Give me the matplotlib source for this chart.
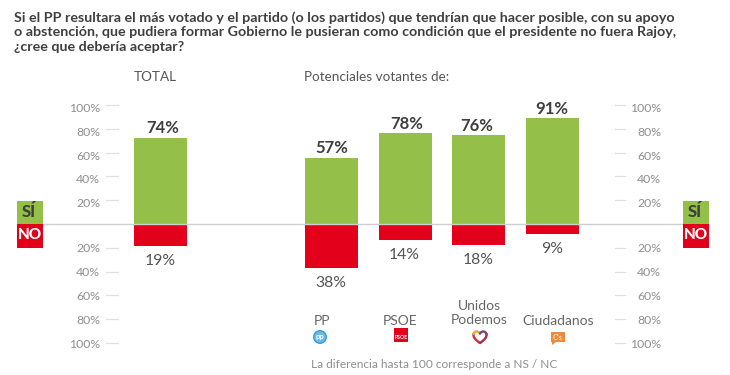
import matplotlib
matplotlib.use('Agg')
import matplotlib.pyplot as plt
from matplotlib.patches import Circle, Polygon, Rectangle
from matplotlib.path import Path

plt.rcParams['font.family'] = ['Lato', 'DejaVu Sans']

# Datos
grupos = ['TOTAL', 'PP', 'PSOE', 'Unidos\nPodemos', 'Ciudadanos']
si = [74, 57, 78, 76, 91]
no = [19, 38, 14, 18, 9]
marcas = [20, 40, 60, 80, 100]

titulo = ('Si el PP resultara el más votado y el partido (o los partidos) que tendrían que hacer posible, con su apoyo\n'
          'o abstención, que pudiera formar Gobierno le pusieran como condición que el presidente no fuera Rajoy,\n'
          '¿cree que debería aceptar?')
nota = 'La diferencia hasta 100 corresponde a NS / NC'

VERDE = '#94c04a'
ROJO = '#e2001a'
GRIS = '#8f8f8f'
OSCURO = '#3f3f41'

W, H = 730, 375
Y0 = 224  # pixel de la linea cero

fig = plt.figure(figsize=(W / 100, H / 100), dpi=100, facecolor='white')


def capa(px_por_unidad=None):
    a = fig.add_axes([0, 0, 1, 1], facecolor='none')
    a.set_xlim(0, W)
    if px_por_unidad:
        a.set_ylim(-(H - Y0) / px_por_unidad, Y0 / px_por_unidad)
    else:
        a.set_ylim(H, 0)
    a.axis('off')
    return a


ax_barras = capa(1.165)
ax_marcas = capa(1.19)
ax = capa()  # capa en pixeles para textos y logos

# Barras
centros = [160.5, 331.5, 405, 478.5, 552.5]
ax_barras.bar(centros, si, width=53, color=VERDE)
ax_barras.bar(centros, [-v for v in no], width=53, color=ROJO)

# Linea cero
ax.plot([17, 684], [Y0, Y0], color='#cfcfcf', lw=1, zorder=0)

# Marcas de los ejes
for m in marcas:
    for signo, ajuste in ((1, -3), (-1, -1)):
        y = signo * m
        ax_marcas.plot([106, 118], [y, y], color='#e0e0e0', lw=0.9)
        ax_marcas.plot([615, 625], [y, y], color='#e0e0e0', lw=0.9)
        ax_marcas.text(100, y + ajuste, f'{m}%', ha='right', va='center', fontsize=8.8, color=GRIS)
        ax_marcas.text(661, y + ajuste, f'{m}%', ha='right', va='center', fontsize=8.8, color=GRIS)

# Etiquetas de valores
ajuste_x = [2.5, 0, 2, -1.5, -1]
for c, s, n, dx in zip(centros, si, no, ajuste_x):
    ax_barras.text(c + dx, s + 1.2, f'{s}%', ha='center', va='bottom', fontsize=12, fontweight='bold', color=OSCURO)
    ax_barras.text(c - 0.5, -n - 6.5, f'{n}%', ha='center', va='top', fontsize=11.3, color='#555555')

# Titulo y cabeceras
ax.text(14, 32, titulo, ha='left', va='center', fontsize=10.3, fontweight='bold', color=OSCURO, linespacing=1.27)
ax.text(155, 77, 'TOTAL', ha='center', va='center', fontsize=9.7, color='#555555')
ax.text(376.5, 77, 'Potenciales votantes de:', ha='center', va='center', fontsize=9.7, color='#555555')

# Cajas SI / NO
for x in (17, 683):
    ax.add_patch(Rectangle((x, 201), 26, 23, color=VERDE, lw=0))
    ax.add_patch(Rectangle((x, 224), 26, 24, color=ROJO, lw=0))
    ax.text(x + 11.5, 212, 'SÍ', ha='center', va='center', fontsize=12, fontweight='black', color=OSCURO)
    ax.text(x + 13, 235, 'NO', ha='center', va='center', fontsize=11, fontweight='black', color='white')

# Nombres de partidos
ax.text(322, 321, grupos[1], ha='center', va='center', fontsize=10, color='#666666')
ax.text(400, 321, grupos[2], ha='center', va='center', fontsize=10, color='#666666')
ax.text(479, 313, grupos[3], ha='center', va='center', fontsize=10, color='#666666', linespacing=1.3)
ax.text(558, 321, grupos[4], ha='center', va='center', fontsize=10, color='#666666')

# Logos
ax.add_patch(Circle((320, 337), 6.3, facecolor='#6cb9e6', edgecolor='#35a0dc', lw=1))
ax.text(320, 337, 'pp', ha='center', va='center', fontsize=5.5, fontweight='bold', color='white')
ax.add_patch(Rectangle((394, 328), 14, 14, color='#e2001a', lw=0))
ax.text(401, 337.5, 'PSOE', ha='center', va='center', fontsize=3.8, fontweight='bold', color='white')

# Corazon de Unidos Podemos: contorno con tres colores
corazon = Path([(480, 343), (475, 339.5), (473, 337), (473.5, 334), (474.5, 331), (478, 330.5), (480, 333.5),
                (482, 330.5), (485.5, 331), (486.5, 334), (487, 337), (485, 339.5), (480, 343)],
               [Path.MOVETO] + [Path.CURVE4] * 12)
puntos = corazon.to_polygons(closed_only=False)[0]
n_p = len(puntos)
tramos = [(0, n_p // 4, '#c8323c'), (n_p // 4, n_p // 2, '#eda33a'),
          (n_p // 2, 3 * n_p // 4, '#7b3f8c'), (3 * n_p // 4, n_p - 1, '#a8304c')]
for i0, i1, color in tramos:
    ax.plot(puntos[i0:i1 + 1, 0], puntos[i0:i1 + 1, 1], color=color, lw=1.7, solid_capstyle='round')

# Logo de Ciudadanos
ax.add_patch(Rectangle((551, 332), 14, 10, color='#ee8a3c', lw=0))
ax.add_patch(Polygon([(552, 342), (556, 342), (552, 345)], color='#ee8a3c', lw=0))
ax.text(558, 337, "C's", ha='center', va='center', fontsize=5.5, fontweight='bold', color='#fbe3cf')

# Nota
ax.text(311, 365, nota, ha='left', va='center', fontsize=8.6, color=GRIS)

fig.savefig('out.png', dpi=100)
